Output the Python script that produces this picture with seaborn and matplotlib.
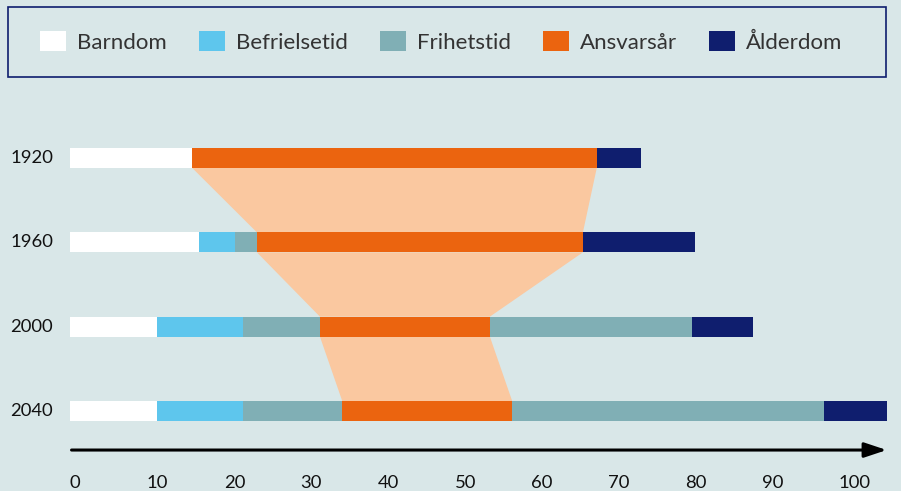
import pandas as pd
import seaborn as sns
import matplotlib.pyplot as plt
from matplotlib.patches import Patch, Rectangle

years = ['1920', '1960', '2000', '2040']

phases_1920 = ['Barndom', 'Ansvarsår', 'Ålderdom']
ends_1920 = [15.9, 68.5, 74.3]
phases_1960 = ['Barndom', 'Befrielsetid', 'Frihetstid', 'Ansvarsår', 'Ålderdom']
ends_1960 = [16.8, 21.5, 24.3, 66.7, 81.3]
phases_2000 = ['Barndom', 'Befrielsetid', 'Frihetstid', 'Ansvarsår', 'Frihetstid', 'Ålderdom']
ends_2000 = [11.3, 22.5, 32.5, 54.6, 80.9, 88.8]
phases_2040 = ['Barndom', 'Befrielsetid', 'Frihetstid', 'Ansvarsår', 'Frihetstid', 'Ålderdom']
ends_2040 = [11.3, 22.5, 35.4, 57.5, 98.0, 106.2]

legend_labels = ['Barndom', 'Befrielsetid', 'Frihetstid', 'Ansvarsår', 'Ålderdom']
ticks = [0, 10, 20, 30, 40, 50, 60, 70, 80, 90, 100]

colors = {'Barndom': '#ffffff', 'Befrielsetid': '#5ec6ed', 'Frihetstid': '#80afb5',
          'Ansvarsår': '#eb640f', 'Ålderdom': '#0f1e6e'}
bg = '#d9e7e8'
light_orange = '#fac8a0'

rows = []
for year, phases, ends in zip(years, [phases_1920, phases_1960, phases_2000, phases_2040],
                              [ends_1920, ends_1960, ends_2000, ends_2040]):
    start = 0
    for i, (p, e) in enumerate(zip(phases, ends)):
        rows.append({'year': year, 'layer': i, 'phase': p, 'start': start, 'end': e})
        start = e
df = pd.DataFrame(rows)

sns.set_theme(style='white')
plt.rcParams['font.family'] = ['Lato', 'DejaVu Sans']

fig = plt.figure(figsize=(9.01, 4.91), dpi=100, facecolor=bg)
ax = fig.add_axes([0, 0, 1, 1])
ax.set_facecolor(bg)

bar_w = 0.237

# staplade staplar: rita kumulativa slut bakifrån
for k in sorted(df['layer'].unique(), reverse=True):
    sub = df[df['layer'] == k]
    sns.barplot(data=sub, x='end', y='year', hue='phase', palette=colors, order=years,
                hue_order=legend_labels, dodge=False, width=bar_w, orient='h',
                saturation=1, legend=False, linewidth=0, edgecolor='none', ax=ax)

# ljusorange band mellan ansvarsåren
ans = df[df['phase'] == 'Ansvarsår'].set_index('year')
for i in range(len(years) - 1):
    a, b = ans.loc[years[i]], ans.loc[years[i + 1]]
    y1, y2 = i + bar_w / 2, i + 1 - bar_w / 2
    ax.fill([a['start'], a['end'], b['end'], b['start']], [y1, y1, y2, y2],
            color=light_orange, lw=0, zorder=0.5)

# pil-axel
x_end = df['end'].max()
axis_y = 3.463
ax.annotate('', xy=(x_end, axis_y), xytext=(0.2, axis_y),
            arrowprops=dict(arrowstyle='-|>,head_length=0.9,head_width=0.3',
                            lw=2.2, color='black', shrinkA=0, shrinkB=0,
                            mutation_scale=15))
for t in ticks:
    ax.text(t, 3.855, str(t), ha='left', va='center', fontsize=13.3, color='#111111')

for i, year in enumerate(years):
    ax.text(-2.2, i, year, ha='right', va='center', fontsize=13.3, color='#111111')

px_unit = 7.69
ax.set_xlim(-70 / px_unit, (901 - 70) / px_unit)
ax.set_ylim((491 - 158) / 84.33, -158 / 84.33)
ax.set_axis_off()

# legend med ram
fig.patches.append(Rectangle((8 / 901, 1 - 77 / 491), 878 / 901, 70 / 491,
                             transform=fig.transFigure, fill=False,
                             edgecolor='#0f1e6e', lw=1.2))
handles = [Patch(facecolor=colors[p], edgecolor='none') for p in legend_labels]
fig.legend(handles, legend_labels, loc='center', bbox_to_anchor=(441 / 901, 1 - 42 / 491),
           ncol=5, frameon=False, fontsize=16, handlelength=1.17, handleheight=0.99,
           handletextpad=0.5, columnspacing=1.44, labelcolor='#333333')

fig.savefig('out.png', dpi=100, facecolor=bg)
